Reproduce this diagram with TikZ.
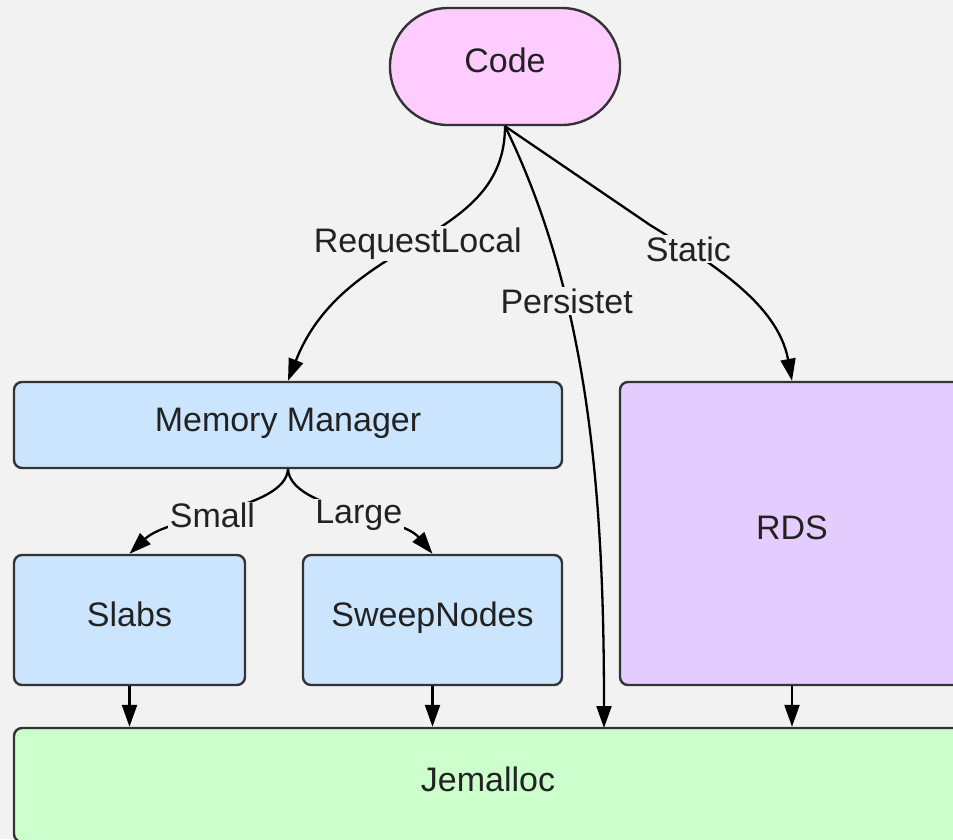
\documentclass[tikz,border=0pt]{standalone}
\usepackage{fontspec}
\setmainfont{Liberation Sans}
\usetikzlibrary{arrows.meta}
\definecolor{bg}{HTML}{F2F2F2}
\definecolor{codefill}{HTML}{FFCCFF}
\definecolor{bluefill}{HTML}{CCE5FF}
\definecolor{rdsfill}{HTML}{E5CCFF}
\definecolor{greenfill}{HTML}{CCFFCC}
\definecolor{edgec}{HTML}{333333}
\definecolor{txt}{HTML}{222222}
\begin{document}
\begin{tikzpicture}[x=1pt,y=-1pt,
  font=\fontsize{34}{40}\selectfont,
  box/.style={draw=edgec, line width=2.4pt, rounded corners=8pt, inner sep=0pt, text=txt, text height=24pt, text depth=12pt},
  conn/.style={draw=black, line width=2.3pt, -{Triangle[length=22pt,width=15pt]}},
  lbl/.style={fill=bg, inner sep=1.5pt, text=txt}]
\fill[bg] (0,0) rectangle (953,839);
\useasboundingbox (0,0) rectangle (953,839);
\clip (0,0) rectangle (953,839);
\node[box, fill=codefill, rounded corners=58pt, minimum width=230pt, minimum height=117pt] (code) at (505,66.5) {Code};
\node[box, fill=bluefill, minimum width=548pt, minimum height=86pt] (mm) at (288,425) {Memory Manager};
\node[box, fill=bluefill, minimum width=231pt, minimum height=130pt] (slabs) at (129.5,620) {Slabs};
\node[box, fill=bluefill, minimum width=259pt, minimum height=130pt] (sweep) at (432.5,620) {SweepNodes};
\node[box, fill=rdsfill, minimum width=344pt, minimum height=303pt] (rds) at (792,533.5) {RDS};
\node[box, fill=greenfill, minimum width=948pt, minimum height=114pt] (jem) at (488,785) {Jemalloc};
\coordinate (pend) at (604,728);
\draw[conn] (code.south) .. controls (505,245) and (345,235) .. node[lbl, pos=0.5] {RequestLocal} (mm.north);
\draw[conn] (code.south) .. controls (590,300) and (604,500) .. node[lbl, pos=0.32] {Persistet} (pend);
\draw[conn] (code.south) -- (650,225) .. controls (715,265) and (778,305) .. node[lbl, pos=0.2] {Static} (rds.north);
\draw[conn] (mm.south) .. controls (285,510) and (170,515) .. node[lbl, pos=0.55] {Small} (slabs.north);
\draw[conn] (mm.south) .. controls (291,510) and (400,515) .. node[lbl, pos=0.55] {Large} (sweep.north);
\draw[conn] (slabs.south) -- (slabs.south |- jem.north);
\draw[conn] (sweep.south) -- (sweep.south |- jem.north);
\draw[conn] (rds.south) -- (rds.south |- jem.north);
\end{tikzpicture}
\end{document}
